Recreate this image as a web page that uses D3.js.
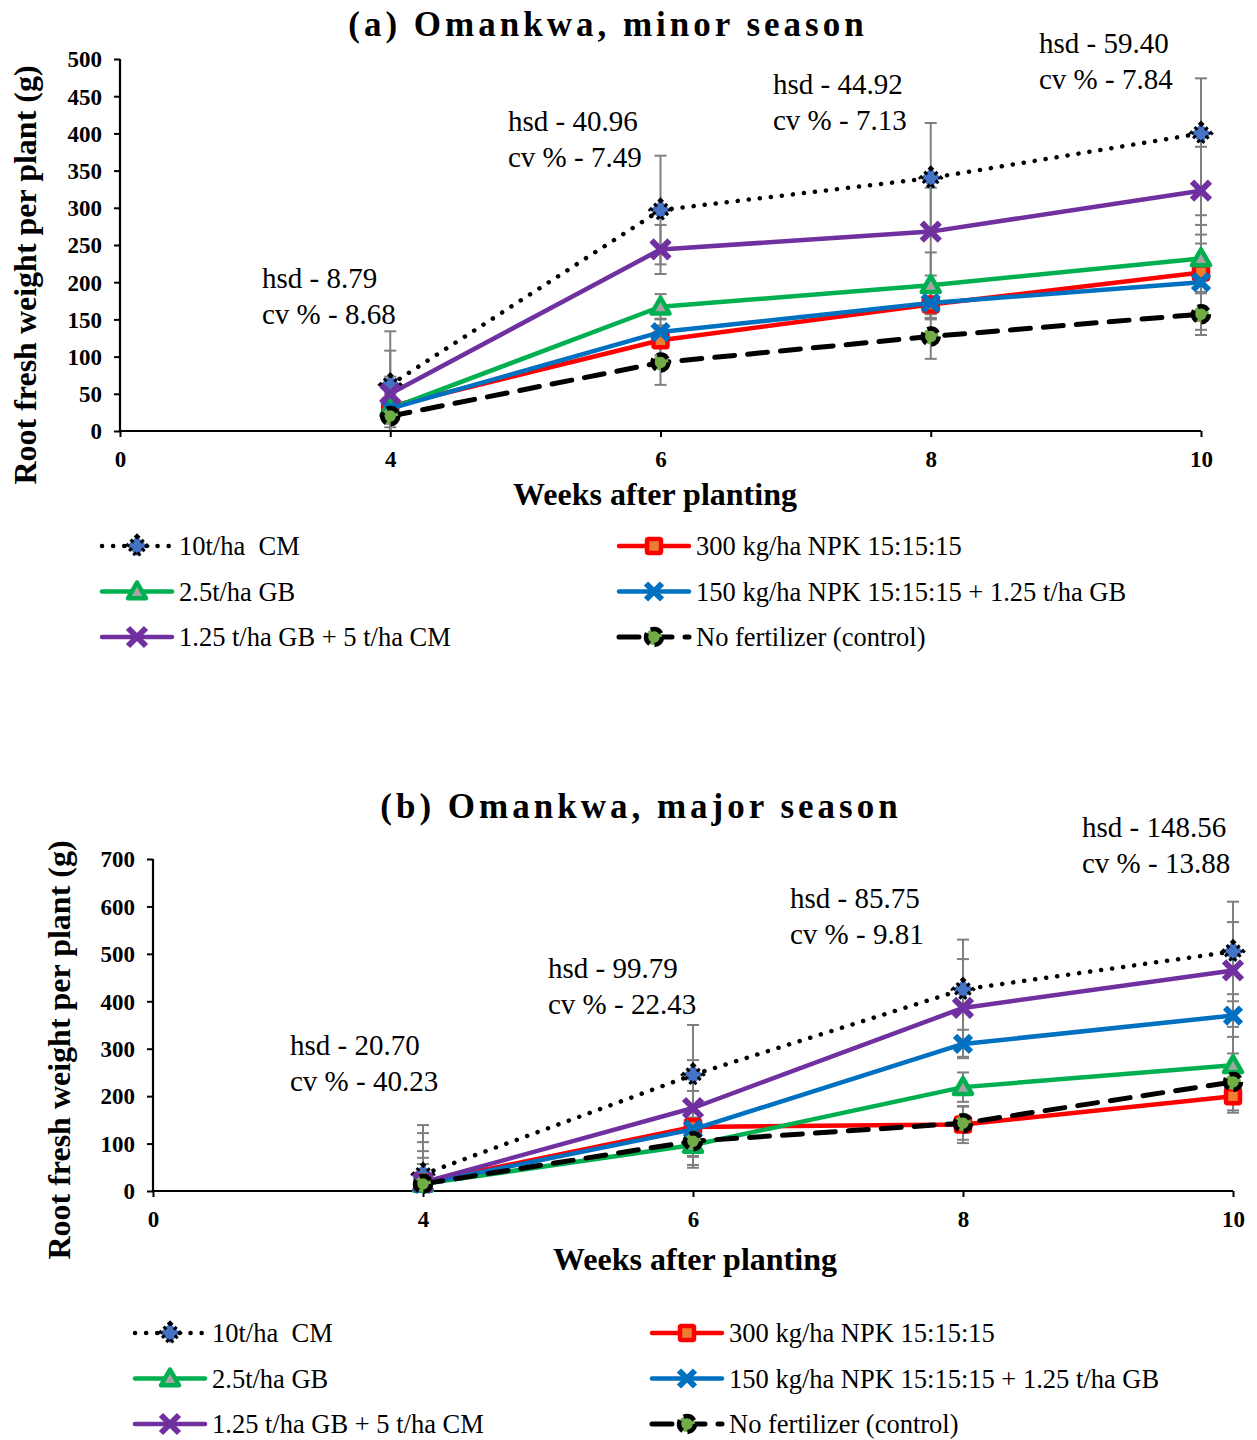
<!DOCTYPE html>
<html>
<head>
<meta charset="utf-8">
<script src="https://cdn.jsdelivr.net/npm/d3@7"></script>
<style>
  html, body { margin: 0; padding: 0; background: #fff; }
  svg { display: block; font-family: "Liberation Serif", "Times New Roman", serif; }
</style>
</head>
<body>
<svg id="chart" width="1257" height="1440"></svg>
<script>
// Weeks after planting at which roots were sampled (category axis 0, 4, 6, 8, 10)
const weeks = [4, 6, 8, 10];
const xTicks = [0, 4, 6, 8, 10];

const seriesNames = [
  "10t/ha  CM",
  "300 kg/ha NPK 15:15:15",
  "2.5t/ha GB",
  "150 kg/ha NPK 15:15:15 + 1.25 t/ha GB",
  "1.25 t/ha GB + 5 t/ha CM",
  "No fertilizer (control)"
];

// (a) minor season: mean root fresh weight (g) per treatment
const minorCM      = [62, 297, 340, 400];
const minorNPK     = [33, 122, 170, 213];
const minorGB      = [30, 167, 196, 232];
const minorNPKGB   = [30, 133, 172, 200];
const minorGBCM    = [50, 244, 268, 323];
const minorControl = [20, 92, 127, 157];
// error bar half-widths (g)
const minorCMErr      = [72, 73, 74, 74];
const minorNPKErr     = [40, 20, 20, 77];
const minorGBErr      = [20, 17, 44, 45];
const minorNPKGBErr   = [20, 18, 20, 52];
const minorGBCMErr    = [58, 33, 59, 59];
const minorControlErr = [15, 30, 30, 28];
const minorYTicks = [0, 50, 100, 150, 200, 250, 300, 350, 400, 450, 500];
const minorHsd = ["8.79", "40.96", "44.92", "59.40"];
const minorCv  = ["8.68", "7.49", "7.13", "7.84"];

// (b) major season
const majorCM      = [35, 245, 425, 505];
const majorNPK     = [18, 135, 140, 200];
const majorGB      = [15, 97, 219, 265];
const majorNPKGB   = [15, 130, 310, 370];
const majorGBCM    = [18, 175, 386, 465];
const majorControl = [15, 105, 143, 230];
const majorCMErr      = [104, 105, 105, 105];
const majorNPKErr     = [66, 30, 39, 35];
const majorGBErr      = [42, 25, 31, 81];
const majorNPKGBErr   = [55, 81, 30, 45];
const majorGBCMErr    = [85, 101, 103, 102];
const majorControlErr = [107, 50, 35, 60];
const majorYTicks = [0, 100, 200, 300, 400, 500, 600, 700];
const majorHsd = ["20.70", "99.79", "85.75", "148.56"];
const majorCv  = ["40.23", "22.43", "9.81", "13.88"];

// drawing styles, one per treatment
const styles = [
  { line: "#000000", width: 4.5, dash: "0.1 11", cap: "round", marker: "diamond", fill: "#4472C4", mstroke: "#000000", mdash: "3 3" },
  { line: "#FF0000", width: 4.5, dash: null, cap: "round", marker: "square", fill: "#ED7D31", mstroke: "#FF0000" },
  { line: "#00B050", width: 4.5, dash: null, cap: "round", marker: "triangle", fill: "#A5A5A5", mstroke: "#00B050" },
  { line: "#0070C0", width: 4.5, dash: null, cap: "round", marker: "x", fill: "none", mstroke: "#0070C0", msize: 8 },
  { line: "#7030A0", width: 4.5, dash: null, cap: "round", marker: "x", fill: "none", mstroke: "#7030A0", msize: 9 },
  { line: "#000000", width: 5, dash: "20 13", cap: "round", marker: "circle", fill: "#70AD47", mstroke: "#000000", mdash: "12 5" }
];

const svg = d3.select("#chart");

function drawMarker(g, st, cx, cy) {
  if (st.marker === "diamond") {
    const r = 10;
    g.append("path")
      .attr("d", `M${cx},${cy - r}L${cx + r},${cy}L${cx},${cy + r}L${cx - r},${cy}Z`)
      .attr("fill", st.fill).attr("stroke", st.mstroke).attr("stroke-width", 4)
      .attr("stroke-dasharray", st.mdash);
  } else if (st.marker === "square") {
    const s = 7;
    g.append("rect").attr("x", cx - s).attr("y", cy - s).attr("width", 2 * s).attr("height", 2 * s)
      .attr("rx", 1.5)
      .attr("fill", st.fill).attr("stroke", st.mstroke).attr("stroke-width", 4.5);
  } else if (st.marker === "triangle") {
    const r = 9;
    g.append("path")
      .attr("d", `M${cx},${cy - r}L${cx + r},${cy + r * 0.75}L${cx - r},${cy + r * 0.75}Z`)
      .attr("fill", st.fill).attr("stroke", st.mstroke).attr("stroke-width", 4.5)
      .attr("stroke-linejoin", "round");
  } else if (st.marker === "x") {
    const r = st.msize;
    g.append("path")
      .attr("d", `M${cx - r},${cy - r}L${cx + r},${cy + r}M${cx - r},${cy + r}L${cx + r},${cy - r}`)
      .attr("stroke", st.mstroke).attr("stroke-width", 6).attr("fill", "none");
  } else if (st.marker === "circle") {
    g.append("circle").attr("cx", cx).attr("cy", cy).attr("r", 8)
      .attr("fill", st.fill).attr("stroke", st.mstroke).attr("stroke-width", 4.5)
      .attr("stroke-dasharray", st.mdash);
  }
}

function drawPanel(cfg) {
  const x = d3.scalePoint().domain(xTicks).range([cfg.left, cfg.right]);
  const y = d3.scaleLinear().domain([0, cfg.yMax]).range([cfg.bottom, cfg.top]);
  const g = svg.append("g");

  // title
  g.append("text").attr("x", cfg.titleX).attr("y", cfg.titleY)
    .attr("text-anchor", "middle").attr("font-size", 35).attr("font-weight", "bold")
    .attr("letter-spacing", 4).text(cfg.title);

  // error bars (clipped at the axis floor), behind the lines
  const eb = g.append("g").attr("stroke", "#7F7F7F").attr("stroke-width", 2);
  cfg.series.forEach((vals, si) => {
    vals.forEach((v, i) => {
      const e = cfg.errors[si][i];
      const xp = x(weeks[i]);
      const lo = Math.max(v - e, 0), hi = v + e;
      eb.append("line").attr("x1", xp).attr("x2", xp).attr("y1", y(lo)).attr("y2", y(hi));
      const caps = v - e >= 0 ? [v - e, hi] : [hi];
      caps.forEach(b => {
        eb.append("line").attr("x1", xp - 6).attr("x2", xp + 6).attr("y1", y(b)).attr("y2", y(b));
      });
    });
  });

  // axes
  const yAxis = d3.axisLeft(y).tickValues(cfg.yTicks).tickSize(6).tickPadding(12);
  const ya = g.append("g").attr("transform", `translate(${cfg.left},0)`).call(yAxis);
  const xAxis = d3.axisBottom(x).tickValues(xTicks).tickSize(6).tickPadding(14);
  const xa = g.append("g").attr("transform", `translate(0,${cfg.bottom})`).call(xAxis);
  [ya, xa].forEach(a => {
    a.select(".domain").attr("stroke", "#000").attr("stroke-width", 2.2);
    a.selectAll(".tick line").attr("stroke", "#000").attr("stroke-width", 2);
    a.selectAll(".tick text").attr("font-size", 23).attr("font-weight", "bold")
      .attr("font-family", "Liberation Serif, Times New Roman, serif").attr("fill", "#000");
  });
  ya.select(".domain").attr("d", `M0,${cfg.top}V${cfg.bottom}`);
  ya.selectAll(".tick text").attr("dy", "0.34em");
  xa.select(".domain").attr("d", `M${cfg.left},0H${cfg.right}`);

  // axis titles
  g.append("text").attr("x", cfg.xLabelX).attr("y", cfg.xLabelY).attr("text-anchor", "middle")
    .attr("font-size", 32).attr("font-weight", "bold").text("Weeks after planting");
  g.append("text").attr("transform", `translate(${cfg.yLabelX},${cfg.yLabelY}) rotate(-90)`)
    .attr("text-anchor", "middle").attr("font-size", 32).attr("font-weight", "bold")
    .text("Root fresh weight per plant (g)");

  // series lines and markers
  const line = d3.line().x((d, i) => x(weeks[i])).y(d => y(d));
  cfg.series.forEach((vals, si) => {
    const st = styles[si];
    const sg = g.append("g");
    sg.append("path").datum(vals).attr("d", line).attr("fill", "none")
      .attr("stroke", st.line).attr("stroke-width", st.width)
      .attr("stroke-linecap", st.cap).attr("stroke-linejoin", "round")
      .attr("stroke-dasharray", st.dash);
    vals.forEach((v, i) => drawMarker(sg, st, x(weeks[i]), y(v)));
  });

  // hsd / cv annotations
  cfg.notes.forEach((n, i) => {
    g.append("text").attr("x", n[0]).attr("y", n[1]).attr("font-size", 29)
      .text("hsd - " + cfg.hsd[i]);
    g.append("text").attr("x", n[0]).attr("y", n[1] + 36).attr("font-size", 29)
      .text("cv % - " + cfg.cv[i]);
  });

  // legend, two columns, row by row
  seriesNames.forEach((name, si) => {
    const col = si % 2, row = Math.floor(si / 2);
    const lx = cfg.legendX[col], ly = cfg.legendY + row * 45.5;
    const st = styles[si];
    const lg = g.append("g");
    lg.append("line").attr("x1", lx).attr("x2", lx + 70).attr("y1", ly).attr("y2", ly)
      .attr("stroke", st.line).attr("stroke-width", st.width)
      .attr("stroke-linecap", st.cap).attr("stroke-dasharray", st.dash);
    drawMarker(lg, st, lx + 35, ly);
    lg.append("text").attr("x", lx + 77).attr("y", ly + 9).attr("font-size", 26.5)
      .attr("xml:space", "preserve").text(name);
  });
}

drawPanel({
  title: "(a) Omankwa, minor season", titleX: 608, titleY: 36,
  left: 120, right: 1201, top: 59, bottom: 431, yMax: 500, yTicks: minorYTicks,
  series: [minorCM, minorNPK, minorGB, minorNPKGB, minorGBCM, minorControl],
  errors: [minorCMErr, minorNPKErr, minorGBErr, minorNPKGBErr, minorGBCMErr, minorControlErr],
  hsd: minorHsd, cv: minorCv,
  notes: [[262, 288], [508, 131], [773, 94], [1039, 53]],
  xLabelX: 655, xLabelY: 505, yLabelX: 36, yLabelY: 275,
  legendX: [102, 619], legendY: 546
});

drawPanel({
  title: "(b) Omankwa, major season", titleX: 641, titleY: 818,
  left: 153, right: 1233, top: 859, bottom: 1191, yMax: 700, yTicks: majorYTicks,
  series: [majorCM, majorNPK, majorGB, majorNPKGB, majorGBCM, majorControl],
  errors: [majorCMErr, majorNPKErr, majorGBErr, majorNPKGBErr, majorGBCMErr, majorControlErr],
  hsd: majorHsd, cv: majorCv,
  notes: [[290, 1055], [548, 978], [790, 908], [1082, 837]],
  xLabelX: 695, xLabelY: 1270, yLabelX: 70, yLabelY: 1050,
  legendX: [135, 652], legendY: 1333
});
</script>
</body>
</html>
